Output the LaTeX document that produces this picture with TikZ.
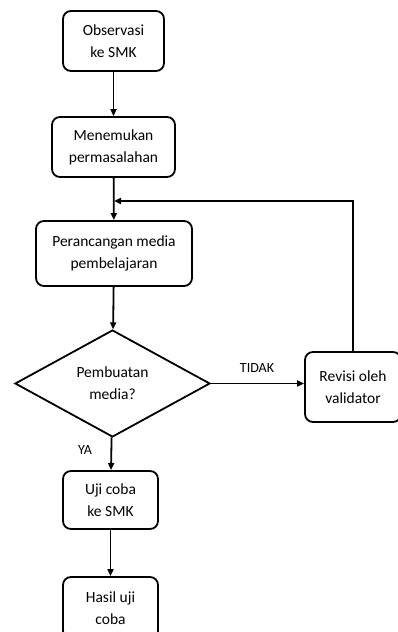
\documentclass[tikz,border=0pt]{standalone}
\usepackage{fontspec}
\setmainfont{Carlito}
\usetikzlibrary{shapes.geometric,arrows.meta}
\begin{document}
\begin{tikzpicture}[x=1pt,y=-1pt,
  box/.style={draw,line width=1.8pt,rounded corners=8pt,align=center,inner sep=0pt,
    font=\fontsize{15.5}{22}\selectfont},
  dec/.style={draw,line width=1.8pt,diamond,inner sep=0pt,align=center,
    font=\fontsize{15.5}{22}\selectfont},
  conn/.style={line width=1.8pt,-{Triangle[length=7pt,width=6pt]}},
  lbl/.style={font=\fontsize{14}{16}\selectfont,inner sep=0pt}]
\clip (0,0) rectangle (398,632);
\node[box,minimum width=101pt,minimum height=60pt] (a) at (113.5,41) {Observasi\\ke SMK};
\node[box,minimum width=123pt,minimum height=60pt] (b) at (113.5,147) {Menemukan\\permasalahan};
\node[box,minimum width=156pt,minimum height=65pt] (c) at (114,253.5) {Perancangan media\\pembelajaran};
\node[dec,minimum width=195pt,minimum height=107pt] (d) at (112.5,383.5) {Pembuatan\\media?};
\node[box,minimum width=96pt,minimum height=70pt] (r) at (353,387) {Revisi oleh\\validator};
\node[box,minimum width=95pt,minimum height=58pt] (u) at (110.5,500) {Uji coba\\ke SMK};
\node[box,minimum width=95pt,minimum height=62pt] (h) at (110.5,608) {Hasil uji\\coba};
\coordinate (fb) at (114,201);
\node[lbl] (t) at (257,368) {TIDAK};
\node[lbl] (y) at (85,450) {YA};
\draw[conn] (a) -- (b);
\draw[conn] (b) -- (c);
\draw[conn] (c) -- (d);
\draw[conn] (d.east) -- (d.east -| r.west);
\draw[conn] (r.north) |- (fb);
\draw[conn] (d) -- (u);
\draw[conn] (u) -- (h);
\end{tikzpicture}
\end{document}
